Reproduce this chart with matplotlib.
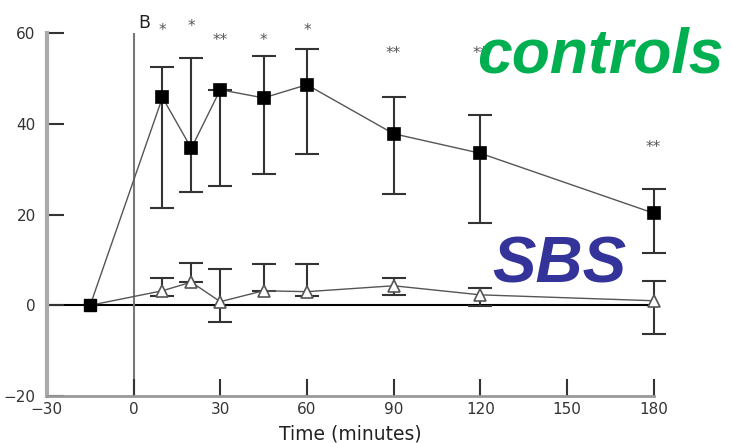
import numpy as np
import matplotlib.pyplot as plt

plt.rcParams['font.family'] = ['DejaVu Sans']

# time points (minutes)
times = [-15, 10, 20, 30, 45, 60, 90, 120, 180]

# controls: mean, upper and lower end of error bar
ctrl_mean = [0, 45.8, 34.6, 47.5, 45.7, 48.6, 37.8, 33.5, 20.3]
ctrl_upper = [0, 52.5, 54.6, 47.5, 54.9, 56.5, 45.8, 42.0, 25.6]
ctrl_lower = [0, 21.5, 25.0, 26.3, 29.0, 33.3, 24.6, 18.2, 11.5]

# SBS: mean, upper and lower end of error bar
sbs_mean = [0, 3.2, 5.1, 0.8, 3.2, 3.0, 4.3, 2.3, 1.0]
sbs_upper = [0, 6.1, 9.4, 8.1, 9.0, 9.0, 6.1, 3.9, 5.3]
sbs_lower = [0, 2.0, 5.1, -3.7, 3.2, 2.0, 2.2, -0.2, -6.4]

# significance marks
star_times = [10, 20, 30, 45, 60, 90, 120, 180]
star_labels = ['*', '*', '**', '*', '*', '**', '**', '**']
star_heights = [60.5, 61.5, 58.3, 58.3, 60.5, 55.5, 55.5, 34.8]

x_ticks = [-30, 0, 30, 60, 90, 120, 150, 180]
y_ticks = [-20, 0, 20, 40, 60]

fig = plt.figure(figsize=(7.32, 4.43), dpi=100)
ax = fig.add_axes([0.064, 0.106, 0.829, 0.8195])

def draw_series(mean, upper, lower, marker, face, edge, ms):
    mean = np.array(mean)
    yerr = [mean - np.array(lower), np.array(upper) - mean]
    ax.plot(times, mean, color='#555555', lw=1.0, zorder=3, clip_on=False)
    eb = ax.errorbar(times[1:], mean[1:], yerr=[yerr[0][1:], yerr[1][1:]], fmt='none',
                     ecolor='#333333', elinewidth=1.5, capsize=8.5, capthick=1.5, zorder=2)
    for part in eb.get_children():
        part.set_clip_on(False)
    ax.plot(times[1:], mean[1:], ls='none', marker=marker, markersize=ms,
            markerfacecolor=face, markeredgecolor=edge, markeredgewidth=1.2, zorder=4,
            clip_on=False)

draw_series(sbs_mean, sbs_upper, sbs_lower, '^', 'white', '#555555', 9)
draw_series(ctrl_mean, ctrl_upper, ctrl_lower, 's', 'black', 'black', 8)
# first point is shared by both series
ax.plot(times[:1], ctrl_mean[:1], ls='none', marker='s', markersize=8,
        color='black', zorder=5)

ax.axhline(0, color='black', lw=1.5, zorder=1)
ax.axvline(0, color='#777777', lw=1.5, zorder=1)

ax.set_xlim(-30, 180)
ax.set_ylim(-20, 60)
ax.set_xticks(x_ticks)
ax.set_yticks(y_ticks)
ax.set_xticklabels(['\u221230', '0', '30', '60', '90', '120', '150', '180'])
ax.set_yticklabels(['\u221220', '0', '20', '40', '60'])
ax.tick_params(direction='in', length=12, width=1.5, color='#333333',
               labelsize=11, labelcolor='#333333')
ax.tick_params(axis='y', pad=8)
ax.tick_params(axis='x', pad=4)
for s in ['top', 'right']:
    ax.spines[s].set_visible(False)
ax.spines['left'].set_color('#aaaaaa')
ax.spines['left'].set_linewidth(3)
ax.spines['bottom'].set_color('#999999')
ax.spines['bottom'].set_linewidth(2)

ax.set_xlabel('Time (minutes)', fontsize=13.5, color='#222222', labelpad=6)

for t, lab, h in zip(star_times, star_labels, star_heights):
    ax.text(t, h, lab, ha='center', va='center', fontsize=11, color='#555555',
            clip_on=False)

ax.text(1.5, 62.3, 'B', ha='left', va='center', fontsize=12.5, color='#222222',
        clip_on=False)

fig.text(0.652, 0.837, 'controls', fontsize=45, color='#00B050', fontweight='bold',
         fontstyle='italic', family='Liberation Sans', va='baseline', zorder=10)
fig.text(0.673, 0.363, 'SBS', fontsize=47, color='#333399', fontweight='bold',
         fontstyle='italic', family='Liberation Sans', va='baseline', zorder=10)

plt.savefig('out.png', dpi=100)
